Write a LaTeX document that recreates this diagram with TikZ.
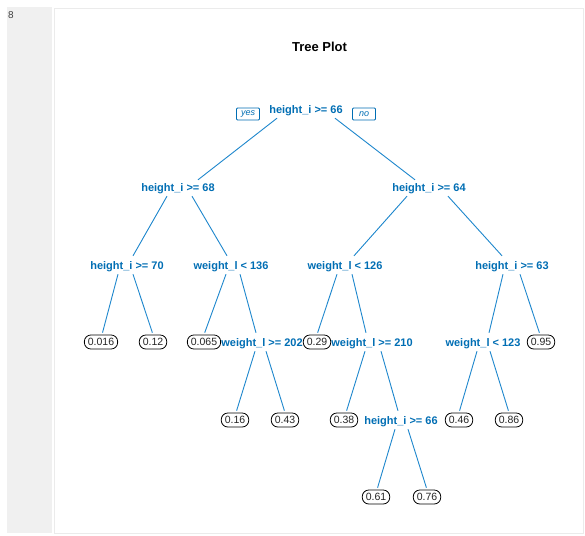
\documentclass[tikz,border=0pt]{standalone}
\usepackage{fontspec}
\setmainfont{Liberation Sans}
\usetikzlibrary{positioning,calc}
\definecolor{rpblue}{RGB}{0,110,180}
\definecolor{rpline}{RGB}{30,135,205}

\begin{document}
\begin{tikzpicture}[x=1pt,y=-1pt,
   splitlab/.style={text=rpblue,font=\fontsize{11}{13}\selectfont\bfseries,inner sep=0pt,text height=8pt,text depth=0pt,minimum height=18pt},
   leafbox/.style={draw,line width=0.8pt,fill=white,rounded corners=6.5pt,minimum height=14pt,inner xsep=3.5pt,inner ysep=0pt,font=\fontsize{10.5}{12}\selectfont,text=black!85},
   yesno/.style={draw=rpblue,line width=0.8pt,text=rpblue,fill=white,rounded corners=1pt,minimum width=23pt,minimum height=12pt,inner sep=0pt,font=\fontsize{9}{10}\selectfont\itshape},
   branch/.style={draw=rpline,line width=0.9pt},
   tip/.style={branch,shorten >=2pt}]
  \useasboundingbox (0,0) rectangle (585,535);
  \fill[black!6] (7,7) rectangle (52,533);
  \draw[black!8,fill=white] (54,8) rectangle (583,533);
  \node[font=\fontsize{10}{11}\selectfont,text=black!75,anchor=north west,inner sep=0pt] (num) at (8,11) {8};
  \node[font=\fontsize{13}{15}\selectfont\bfseries,text depth=0pt] (title) at (319.5,47) {Tree Plot};
  % splits
  \node[splitlab] (r) at (306,109) {height\_i >= 66};
  \node[splitlab] (a) at (178,187) {height\_i >= 68};
  \node[splitlab] (b) at (429,187) {height\_i >= 64};
  \node[splitlab] (c) at (127,265) {height\_i >= 70};
  \node[splitlab] (d) at (231,265) {weight\_l < 136};
  \node[splitlab] (e) at (345,265) {weight\_l < 126};
  \node[splitlab] (f) at (512,265) {height\_i >= 63};
  \node[splitlab] (g) at (262,342) {weight\_l >= 202};
  \node[splitlab] (h) at (372,342) {weight\_l >= 210};
  \node[splitlab] (i) at (483,342) {weight\_l < 123};
  \node[splitlab] (j) at (401,420) {height\_i >= 66};
  \node[yesno] (yes) at (248,114) {yes};
  \node[yesno] (no) at (364,114) {no};
  % leaves
  \node[leafbox] (v1) at (101,342) {0.016};
  \node[leafbox] (v2) at (153,342) {0.12};
  \node[leafbox] (v3) at (204,342) {0.065};
  \node[leafbox] (v4) at (317,342) {0.29};
  \node[leafbox] (v5) at (541,342) {0.95};
  \node[leafbox] (v6) at (235,420) {0.16};
  \node[leafbox] (v7) at (285,420) {0.43};
  \node[leafbox] (v8) at (344,420) {0.38};
  \node[leafbox] (v9) at (459,420) {0.46};
  \node[leafbox] (v10) at (509,420) {0.86};
  \node[leafbox] (v11) at (376,497) {0.61};
  \node[leafbox] (v12) at (427,497) {0.76};
  % branches
  \draw[branch] ([xshift=-29pt]r.south) -- ([xshift=20pt,yshift=-2pt]a.north);
  \draw[branch] ([xshift=29pt]r.south) -- ([xshift=-14pt,yshift=-2pt]b.north);
  \draw[branch] ([xshift=-11pt]a.south) -- ([xshift=6pt]c.north);
  \draw[branch] ([xshift=14pt]a.south) -- ([xshift=-4pt]d.north);
  \draw[branch] ([xshift=-22pt]b.south) -- ([xshift=9pt]e.north);
  \draw[branch] ([xshift=19pt]b.south) -- ([xshift=-10pt]f.north);
  \draw[tip] ([xshift=-9pt]c.south) -- ([xshift=1pt]v1.north);
  \draw[tip] ([xshift=6pt]c.south) -- (v2.north);
  \draw[tip] ([xshift=-5pt]d.south) -- (v3.north);
  \draw[branch] ([xshift=9pt]d.south) -- ([xshift=-6pt]g.north);
  \draw[tip] ([xshift=-8pt]e.south) -- (v4.north);
  \draw[branch] ([xshift=7pt]e.south) -- ([xshift=-6pt]h.north);
  \draw[branch] ([xshift=-9pt]f.south) -- ([xshift=6pt]i.north);
  \draw[tip] ([xshift=8pt]f.south) -- ([xshift=-1pt]v5.north);
  \draw[tip] ([xshift=-7pt]g.south) -- ([xshift=1pt]v6.north);
  \draw[tip] ([xshift=4pt]g.south) -- (v7.north);
  \draw[tip] ([xshift=-7pt]h.south) -- ([xshift=2pt]v8.north);
  \draw[branch] ([xshift=9pt]h.south) -- ([xshift=-3pt]j.north);
  \draw[tip] ([xshift=-6pt]i.south) -- (v9.north);
  \draw[tip] ([xshift=7pt]i.south) -- (v10.north);
  \draw[tip] ([xshift=-6pt]j.south) -- ([xshift=1pt]v11.north);
  \draw[tip] ([xshift=7pt]j.south) -- (v12.north);
\end{tikzpicture}
\end{document}
